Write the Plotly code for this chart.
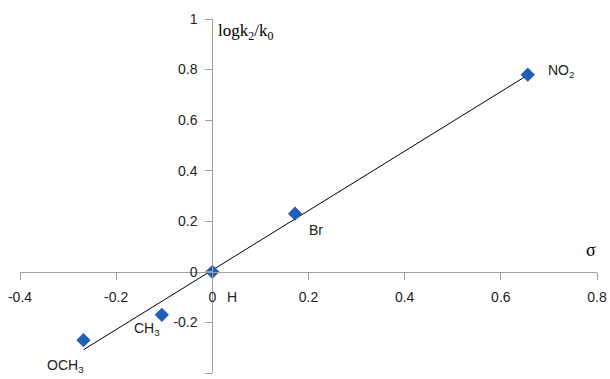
import numpy as np
import plotly.graph_objects as go

substituents = ["OCH<sub>3</sub>", "CH<sub>3</sub>", "H", "Br", "NO<sub>2</sub>"]
sigma = [-0.268, -0.105, 0.0, 0.172, 0.656]
log_k = [-0.27, -0.17, 0.0, 0.23, 0.78]

x_ticks = [-0.4, -0.2, 0, 0.2, 0.4, 0.6, 0.8]
y_ticks = [-0.4, -0.2, 0, 0.2, 0.4, 0.6, 0.8, 1]

x_range = [-0.4, 0.8]
y_range = [-0.4, 1.0]

# linear trend line through data
slope, intercept = np.polyfit(sigma, log_k, 1)
fit_x = [min(sigma), max(sigma)]
fit_y = [slope * v + intercept for v in fit_x]

fig = go.Figure()
fig.add_trace(go.Scatter(x=fit_x, y=fit_y, mode="lines",
                         line=dict(color="black", width=1), hoverinfo="skip"))
fig.add_trace(go.Scatter(x=sigma, y=log_k, mode="markers",
                         marker=dict(symbol="diamond", size=11, color="#1F5FB8",
                                     line=dict(width=0)),
                         text=substituents))

label_offsets = {  # (xshift, yshift) in px
    0: (-18, -26),
    1: (-15, -14),
    2: (20, -25),
    3: (21, -16),
    4: (33, 4),
}
for i, name in enumerate(substituents):
    dx, dy = label_offsets[i]
    fig.add_annotation(x=sigma[i], y=log_k[i], text=name, showarrow=False,
                       xshift=dx, yshift=dy,
                       font=dict(family="Liberation Sans", size=14, color="#222"))

fig.add_annotation(xref="x", yref="y", x=0.07, y=1.0, text="logk<sub>2</sub>/k<sub>0</sub>",
                   showarrow=False, xanchor="center", yanchor="top",
                   font=dict(family="Liberation Serif", size=17, color="black"))
fig.add_annotation(xref="x", yref="y", x=0.788, y=0.085, text="σ",
                   showarrow=False, xanchor="center", yanchor="middle",
                   font=dict(family="Liberation Serif", size=18, color="black"))

x_pos = (0 - y_range[0]) / (y_range[1] - y_range[0])
y_pos = (0 - x_range[0]) / (x_range[1] - x_range[0])

axis_font = dict(family="Liberation Sans", size=14, color="#222")
fig.update_layout(
    width=610, height=379,
    margin=dict(l=20, r=13, t=19, b=6, autoexpand=False),
    plot_bgcolor="white", paper_bgcolor="white",
    showlegend=False,
    xaxis=dict(range=x_range, tickvals=x_ticks,
               ticktext=[f"{v:g}" for v in x_ticks],
               showgrid=False, zeroline=False, showline=True,
               linecolor="#A0A0A0", linewidth=1, automargin=False,
               ticks="outside", ticklen=7, tickcolor="#A0A0A0",
               ticklabelstandoff=5,
               anchor="free", position=x_pos,
               tickfont=axis_font),
    yaxis=dict(range=y_range, tickvals=y_ticks,
               ticktext=[f"{v:g}" for v in y_ticks],
               showgrid=False, zeroline=False, showline=True,
               linecolor="#A0A0A0", linewidth=1, automargin=False,
               ticks="outside", ticklen=7, tickcolor="#A0A0A0",
               ticklabelstandoff=5,
               anchor="free", position=y_pos,
               tickfont=axis_font),
)

fig.write_html("out.html", config={"displayModeBar": False},
               post_script="document.body.style.margin='0';")
